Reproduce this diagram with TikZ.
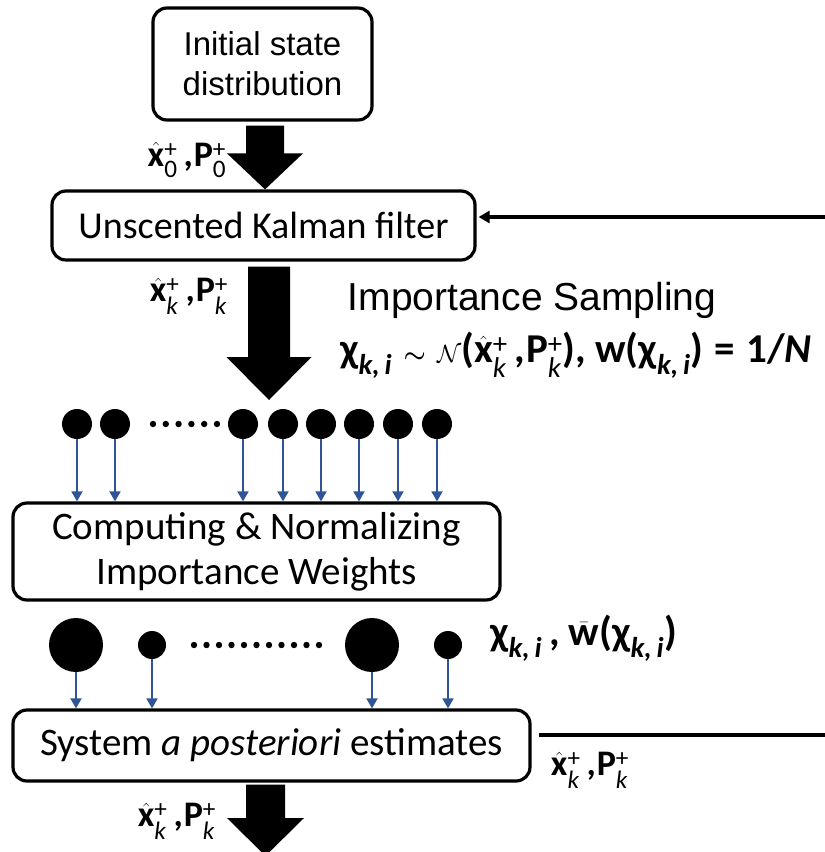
\documentclass[tikz,border=0pt]{standalone}
\usepackage{fontspec}
\usepackage{amsmath}
\setmainfont{Carlito}
\newfontfamily\arialf{Liberation Sans}
\usetikzlibrary{calc,arrows.meta}
\definecolor{arrowblue}{RGB}{47,85,151}
\newcommand{\ssub}[1]{$_{\text{\itshape #1}}$}
\newcommand{\supsub}[2]{$^{\text{\mdseries #1}}_{\text{\mdseries\itshape #2}}$}
\newcommand{\xh}{$\hat{\text{x}}$}
\newcommand{\XP}[1]{\xh\supsub{+}{#1}\,,\kern1pt P\supsub{+}{#1}}
\newcommand{\fatarrow}[5]{%
  \fill let \p1=(#1), \p2=(#2) in
    (\x1-#3,\y1) -- (\x1+#3,\y1) -- (\x1+#3,\y2+#5) -- (\x1+#4,\y2+#5)
    -- (\x1,\y2) -- (\x1-#4,\y2+#5) -- (\x1-#3,\y2+#5) -- cycle;}
\begin{document}
\begin{tikzpicture}[x=1pt,y=-1pt,
  box/.style={draw, line width=3.2pt, rounded corners=14pt, align=center, inner sep=0pt},
  bdot/.style={circle, fill=black, inner sep=0pt, minimum size=#1},
  bluearrow/.style={draw=arrowblue, line width=1.8pt, -{Triangle[length=10pt,width=11pt]}},
  lab/.style={font=\fontsize{36}{38}\selectfont\bfseries, inner sep=0pt},
  biglab/.style={font=\fontsize{41}{43}\selectfont\bfseries, inner sep=0pt}]
\useasboundingbox (0,0) rectangle (825,852);

% boxes
\node[box, minimum width=219pt, minimum height=112pt,
      font=\arialf\fontsize{33}{40}\selectfont] (init) at (262.5,64) {Initial state\\distribution};
\node[box, minimum width=423pt, minimum height=69pt,
      font=\fontsize{38}{40}\selectfont] (ukf) at (263.5,225.5) {Unscented Kalman filter};
\node[box, minimum width=487pt, minimum height=97pt,
      font=\fontsize{39}{45}\selectfont] (cnw) at (256.5,551.5) {Computing \& Normalizing\\Importance Weights};
\node[box, minimum width=517pt, minimum height=71pt,
      font=\fontsize{39}{40}\selectfont] (sys) at (271.5,745.5) {System \textit{a posteriori} estimates};

% fat arrows
\coordinate (a1s) at ($(init.south)+(2.5,4)$);
\coordinate (a1t) at (a1s |- ukf.north);
\fatarrow{a1s}{a1t}{19}{38}{36}
\coordinate (a2s) at ($(ukf.south)+(5.5,5)$);
\coordinate (a2t) at (269,400);
\fatarrow{a2s}{a2t}{21}{42.5}{43}
\coordinate (a3s) at ($(sys.south)+(-6,2)$);
\coordinate (a3t) at (265.5,856);
\fatarrow{a3s}{a3t}{19.5}{38.5}{38}

% feedback line into UKF
\coordinate (fbin) at ($(ukf.east |- 0,217)+(2,0)$);
\coordinate (fbfar) at (825,217);
\draw[line width=3.2pt, -{Triangle[length=11pt,width=12pt]}] (fbfar) -- (fbin);

% output line
\coordinate (outa) at (539,735);
\coordinate (outb) at (825,735);
\draw[line width=3.2pt] (outa) -- (outb);

% labels
\node[lab] (l1) at (187,160) {\XP{\upshape 0}};
\node[lab] (l2) at (189,296) {\XP{k}};
\node[font=\arialf\fontsize{39}{42}\selectfont, inner sep=0pt] (istitle) at (532,300) {Importance Sampling};
\node[biglab, anchor=west] (formula) at (340,355) {χ\ssub{k,\,i}\;$\boldsymbol{\sim}$\;$\mathcal{N}$(\XP{k}), w(χ\ssub{k,\,i})\;=\;1/\textit{N}};
\node[biglab, anchor=west] (l3) at (490,638) {χ\ssub{k,\,i}\,, $\bar{\text{w}}$(χ\ssub{k,\,i})};
\node[lab] (l4) at (590,770) {\XP{k}};
\node[lab] (l5) at (177,821) {\XP{k}};

% row 1 particles
\foreach \n/\x in {1/77,2/115,3/243,4/283,5/321,6/359,7/398,8/437}{
  \node[bdot=30pt] (p\n) at (\x,424) {};
  \draw[bluearrow] (p\n.south) -- (p\n.south |- cnw.north);
}
\foreach \i in {0,...,5} \fill (153+\i*12.8,424) circle (3.2pt);

% row 2 weighted particles
\node[bdot=54pt] (q1) at (76,645) {};
\node[bdot=28pt] (q2) at (152,645) {};
\node[bdot=54pt] (q3) at (372,645) {};
\node[bdot=28pt] (q4) at (448,645) {};
\foreach \n in {1,...,4}{
  \draw[bluearrow] (q\n.south) -- (q\n.south |- sys.north);
}
\foreach \i in {0,...,10} \fill (194+\i*12.5,645) circle (3.2pt);
\end{tikzpicture}
\end{document}
